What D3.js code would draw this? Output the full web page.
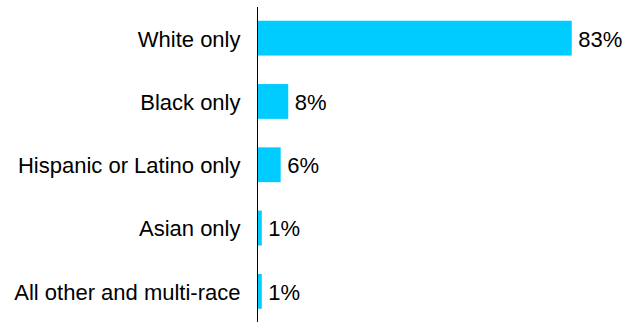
<!DOCTYPE html>
<html>
<head>
<meta charset="utf-8">
<script src="https://cdn.jsdelivr.net/npm/d3@7/dist/d3.min.js"></script>
<style>
  html, body { margin: 0; padding: 0; background: #fff; }
  svg { display: block; }
  text { font-family: "Liberation Sans", Arial, sans-serif; fill: #000; }
</style>
</head>
<body>
<svg id="chart" width="632" height="322"></svg>
<script>
// Share of population by race/ethnicity (percent)
const categories = ["White only", "Black only", "Hispanic or Latino only", "Asian only", "All other and multi-race"];
const values = [83, 8, 6, 1, 1];
const valueLabels = ["83%", "8%", "6%", "1%", "1%"];

const svg = d3.select("#chart");
const axisX = 257.5;
const pxPerUnit = 3.78;

const x = d3.scaleLinear().domain([0, 100]).range([axisX, axisX + 100 * pxPerUnit]);
const y = d3.scaleBand().domain(categories).range([6.5, 323]).paddingInner(0.45).paddingOuter(0.225);

// Category axis: a single vertical line, no ticks
svg.append("line")
  .attr("x1", axisX).attr("x2", axisX)
  .attr("y1", 7).attr("y2", 322)
  .attr("stroke", "#000").attr("stroke-width", 1);

svg.selectAll("rect.bar")
  .data(values)
  .join("rect")
  .attr("class", "bar")
  .attr("x", x(0) + 0.5)
  .attr("y", (d, i) => y(categories[i]))
  .attr("width", d => x(d) - x(0))
  .attr("height", y.bandwidth())
  .attr("fill", "#00CCFF");

svg.selectAll("text.cat")
  .data(categories)
  .join("text")
  .attr("class", "cat")
  .attr("x", axisX - 17)
  .attr("y", d => y(d) + y.bandwidth() / 2)
  .attr("dy", "0.38em")
  .attr("text-anchor", "end")
  .attr("font-size", 22)
  .text(d => d);

svg.selectAll("text.val")
  .data(values)
  .join("text")
  .attr("class", "val")
  .attr("x", d => x(d) + 7)
  .attr("y", (d, i) => y(categories[i]) + y.bandwidth() / 2)
  .attr("dy", "0.38em")
  .attr("font-size", 22)
  .text((d, i) => valueLabels[i]);
</script>
</body>
</html>
